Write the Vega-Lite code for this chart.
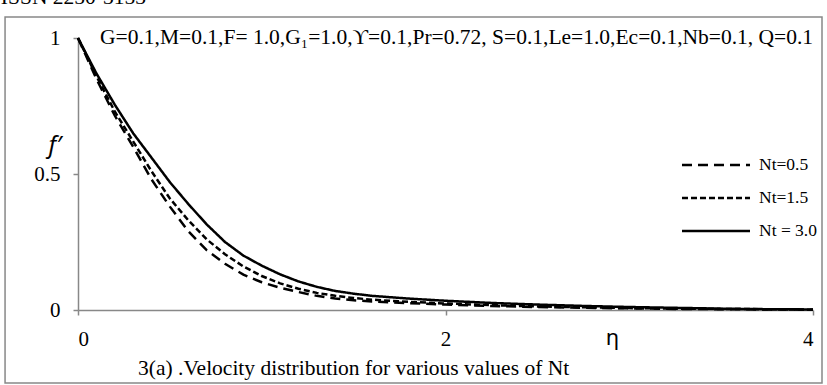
{
  "$schema": "https://vega.github.io/schema/vega-lite/v6.json",
  "autosize": "none",
  "width": 735,
  "height": 272,
  "padding": {"left": 78, "top": 38, "right": 14, "bottom": 75},
  "background": "white",
  "config": {
    "view": {"stroke": null},
    "font": "Liberation Serif",
    "axis": {"grid": false, "domainColor": "#888888", "domainWidth": 1.5, "tickColor": "#888888", "tickWidth": 1.5, "tickSize": 5, "labelFont": "Liberation Serif", "labelFontSize": 21, "labelFontWeight": "normal", "labelColor": "#000000"}
  },
  "datasets": {
    "curves": [
      {"eta": 0, "f": 1, "Nt": "Nt=0.5"},
      {"eta": 0.1, "f": 0.85, "Nt": "Nt=0.5"},
      {"eta": 0.2, "f": 0.715, "Nt": "Nt=0.5"},
      {"eta": 0.3, "f": 0.6, "Nt": "Nt=0.5"},
      {"eta": 0.4, "f": 0.48, "Nt": "Nt=0.5"},
      {"eta": 0.5, "f": 0.38, "Nt": "Nt=0.5"},
      {"eta": 0.6, "f": 0.29, "Nt": "Nt=0.5"},
      {"eta": 0.7, "f": 0.22, "Nt": "Nt=0.5"},
      {"eta": 0.8, "f": 0.17, "Nt": "Nt=0.5"},
      {"eta": 0.9, "f": 0.13, "Nt": "Nt=0.5"},
      {"eta": 1.0, "f": 0.102, "Nt": "Nt=0.5"},
      {"eta": 1.1, "f": 0.082, "Nt": "Nt=0.5"},
      {"eta": 1.2, "f": 0.066, "Nt": "Nt=0.5"},
      {"eta": 1.3, "f": 0.052, "Nt": "Nt=0.5"},
      {"eta": 1.4, "f": 0.042, "Nt": "Nt=0.5"},
      {"eta": 1.5, "f": 0.036, "Nt": "Nt=0.5"},
      {"eta": 1.6, "f": 0.031, "Nt": "Nt=0.5"},
      {"eta": 1.8, "f": 0.025, "Nt": "Nt=0.5"},
      {"eta": 2.0, "f": 0.02, "Nt": "Nt=0.5"},
      {"eta": 2.25, "f": 0.015, "Nt": "Nt=0.5"},
      {"eta": 2.5, "f": 0.011, "Nt": "Nt=0.5"},
      {"eta": 2.75, "f": 0.008, "Nt": "Nt=0.5"},
      {"eta": 3.0, "f": 0.006, "Nt": "Nt=0.5"},
      {"eta": 3.25, "f": 0.004, "Nt": "Nt=0.5"},
      {"eta": 3.5, "f": 0.003, "Nt": "Nt=0.5"},
      {"eta": 3.75, "f": 0.002, "Nt": "Nt=0.5"},
      {"eta": 4.0, "f": 0.001, "Nt": "Nt=0.5"},
      {"eta": 0, "f": 1, "Nt": "Nt=1.5"},
      {"eta": 0.1, "f": 0.86, "Nt": "Nt=1.5"},
      {"eta": 0.2, "f": 0.73, "Nt": "Nt=1.5"},
      {"eta": 0.3, "f": 0.62, "Nt": "Nt=1.5"},
      {"eta": 0.4, "f": 0.51, "Nt": "Nt=1.5"},
      {"eta": 0.5, "f": 0.41, "Nt": "Nt=1.5"},
      {"eta": 0.6, "f": 0.33, "Nt": "Nt=1.5"},
      {"eta": 0.7, "f": 0.26, "Nt": "Nt=1.5"},
      {"eta": 0.8, "f": 0.205, "Nt": "Nt=1.5"},
      {"eta": 0.9, "f": 0.16, "Nt": "Nt=1.5"},
      {"eta": 1.0, "f": 0.125, "Nt": "Nt=1.5"},
      {"eta": 1.1, "f": 0.098, "Nt": "Nt=1.5"},
      {"eta": 1.2, "f": 0.078, "Nt": "Nt=1.5"},
      {"eta": 1.3, "f": 0.063, "Nt": "Nt=1.5"},
      {"eta": 1.4, "f": 0.052, "Nt": "Nt=1.5"},
      {"eta": 1.5, "f": 0.044, "Nt": "Nt=1.5"},
      {"eta": 1.6, "f": 0.038, "Nt": "Nt=1.5"},
      {"eta": 1.8, "f": 0.03, "Nt": "Nt=1.5"},
      {"eta": 2.0, "f": 0.024, "Nt": "Nt=1.5"},
      {"eta": 2.25, "f": 0.018, "Nt": "Nt=1.5"},
      {"eta": 2.5, "f": 0.013, "Nt": "Nt=1.5"},
      {"eta": 2.75, "f": 0.01, "Nt": "Nt=1.5"},
      {"eta": 3.0, "f": 0.007, "Nt": "Nt=1.5"},
      {"eta": 3.25, "f": 0.005, "Nt": "Nt=1.5"},
      {"eta": 3.5, "f": 0.004, "Nt": "Nt=1.5"},
      {"eta": 3.75, "f": 0.003, "Nt": "Nt=1.5"},
      {"eta": 4.0, "f": 0.001, "Nt": "Nt=1.5"},
      {"eta": 0, "f": 1, "Nt": "Nt = 3.0"},
      {"eta": 0.1, "f": 0.87, "Nt": "Nt = 3.0"},
      {"eta": 0.2, "f": 0.755, "Nt": "Nt = 3.0"},
      {"eta": 0.3, "f": 0.65, "Nt": "Nt = 3.0"},
      {"eta": 0.4, "f": 0.56, "Nt": "Nt = 3.0"},
      {"eta": 0.5, "f": 0.47, "Nt": "Nt = 3.0"},
      {"eta": 0.6, "f": 0.39, "Nt": "Nt = 3.0"},
      {"eta": 0.7, "f": 0.315, "Nt": "Nt = 3.0"},
      {"eta": 0.8, "f": 0.25, "Nt": "Nt = 3.0"},
      {"eta": 0.9, "f": 0.2, "Nt": "Nt = 3.0"},
      {"eta": 1.0, "f": 0.163, "Nt": "Nt = 3.0"},
      {"eta": 1.1, "f": 0.131, "Nt": "Nt = 3.0"},
      {"eta": 1.2, "f": 0.105, "Nt": "Nt = 3.0"},
      {"eta": 1.3, "f": 0.085, "Nt": "Nt = 3.0"},
      {"eta": 1.4, "f": 0.07, "Nt": "Nt = 3.0"},
      {"eta": 1.5, "f": 0.06, "Nt": "Nt = 3.0"},
      {"eta": 1.6, "f": 0.052, "Nt": "Nt = 3.0"},
      {"eta": 1.8, "f": 0.042, "Nt": "Nt = 3.0"},
      {"eta": 2.0, "f": 0.034, "Nt": "Nt = 3.0"},
      {"eta": 2.25, "f": 0.026, "Nt": "Nt = 3.0"},
      {"eta": 2.5, "f": 0.02, "Nt": "Nt = 3.0"},
      {"eta": 2.75, "f": 0.015, "Nt": "Nt = 3.0"},
      {"eta": 3.0, "f": 0.011, "Nt": "Nt = 3.0"},
      {"eta": 3.25, "f": 0.008, "Nt": "Nt = 3.0"},
      {"eta": 3.5, "f": 0.005, "Nt": "Nt = 3.0"},
      {"eta": 3.75, "f": 0.003, "Nt": "Nt = 3.0"},
      {"eta": 4.0, "f": 0.002, "Nt": "Nt = 3.0"}
    ],
    "single": [{}]
  },
  "layer": [
    {
      "data": {"name": "single"},
      "mark": {"type": "rect", "fill": null, "stroke": "#888888", "strokeWidth": 1.5, "clip": false},
      "encoding": {
        "x": {"datum": -0.397, "type": "quantitative", "scale": {"domain": [0, 4], "nice": false, "zero": false}},
        "x2": {"datum": 4.049},
        "y": {"datum": 1.077, "type": "quantitative", "scale": {"domain": [0, 1], "nice": false, "zero": false}},
        "y2": {"datum": -0.268}
      }
    },
    {
      "data": {"name": "curves"},
      "mark": {"type": "line", "strokeWidth": 2.5, "color": "#000000", "clip": false},
      "encoding": {
        "x": {"field": "eta", "type": "quantitative", "scale": {"domain": [0, 4], "nice": false, "zero": false},
          "axis": {"values": [0, 2, 4], "format": "~g", "title": "η", "titleFont": "Noto Sans", "titleFontSize": 22, "titleFontWeight": "normal", "titleColor": "#000000", "titleX": 534, "titleY": 27, "titleBaseline": "middle", "titleAnchor": "start", "titleAlign": "center", "labelPadding": 13, "tickSize": 5}},
        "y": {"field": "f", "type": "quantitative", "scale": {"domain": [0, 1], "nice": false, "zero": false},
          "axis": {"values": [0, 0.5, 1], "format": "~g", "title": "f′", "titleFont": "Noto Sans", "titleFontStyle": "italic", "titleFontSize": 24, "titleFontWeight": "normal", "titleColor": "#000000", "titleAngle": 0, "titleX": -17, "titleY": 107, "titleAlign": "right", "titleBaseline": "middle", "labelPadding": 13, "tickSize": 5}},
        "strokeDash": {"field": "Nt", "type": "nominal",
          "scale": {"domain": ["Nt=0.5", "Nt=1.5", "Nt = 3.0"], "range": [[10, 6], [6, 3], [1, 0]]},
          "legend": {"title": null, "orient": "none", "legendX": 625, "legendY": 114, "padding": 0, "symbolType": "M-3,0H3", "symbolSize": 514, "symbolStrokeWidth": 2.5, "symbolStrokeColor": "#000000", "labelFont": "Liberation Serif", "labelFontSize": 17.5, "labelColor": "#000000", "rowPadding": 11, "labelOffset": 30}
        }
      }
    },
    {
      "data": {"name": "single"},
      "mark": {"type": "text", "align": "left", "baseline": "middle", "font": "Liberation Serif", "fontSize": 21.5, "fill": "#000000", "clip": false},
      "encoding": {
        "x": {"datum": 0.12, "type": "quantitative"},
        "y": {"datum": 1, "type": "quantitative"},
        "text": {"value": "G=0.1,M=0.1,F= 1.0,G₁=1.0,ϒ=0.1,Pr=0.72, S=0.1,Le=1.0,Ec=0.1,Nb=0.1, Q=0.1"}
      }
    },
    {
      "data": {"name": "single"},
      "mark": {"type": "text", "align": "left", "baseline": "middle", "font": "Liberation Serif", "fontSize": 21.5, "fill": "#000000", "clip": false},
      "encoding": {
        "x": {"datum": 0.327, "type": "quantitative"},
        "y": {"datum": -0.217, "type": "quantitative"},
        "text": {"value": "3(a) .Velocity distribution for various values of  Nt"}
      }
    },
    {
      "data": {"name": "single"},
      "mark": {"type": "text", "align": "left", "baseline": "middle", "font": "Liberation Serif", "fontSize": 21.5, "fill": "#000000", "clip": false},
      "encoding": {
        "x": {"datum": -0.42, "type": "quantitative"},
        "y": {"datum": 1.148, "type": "quantitative"},
        "text": {"value": "ISSN 2250-3153"}
      }
    }
  ]
}
